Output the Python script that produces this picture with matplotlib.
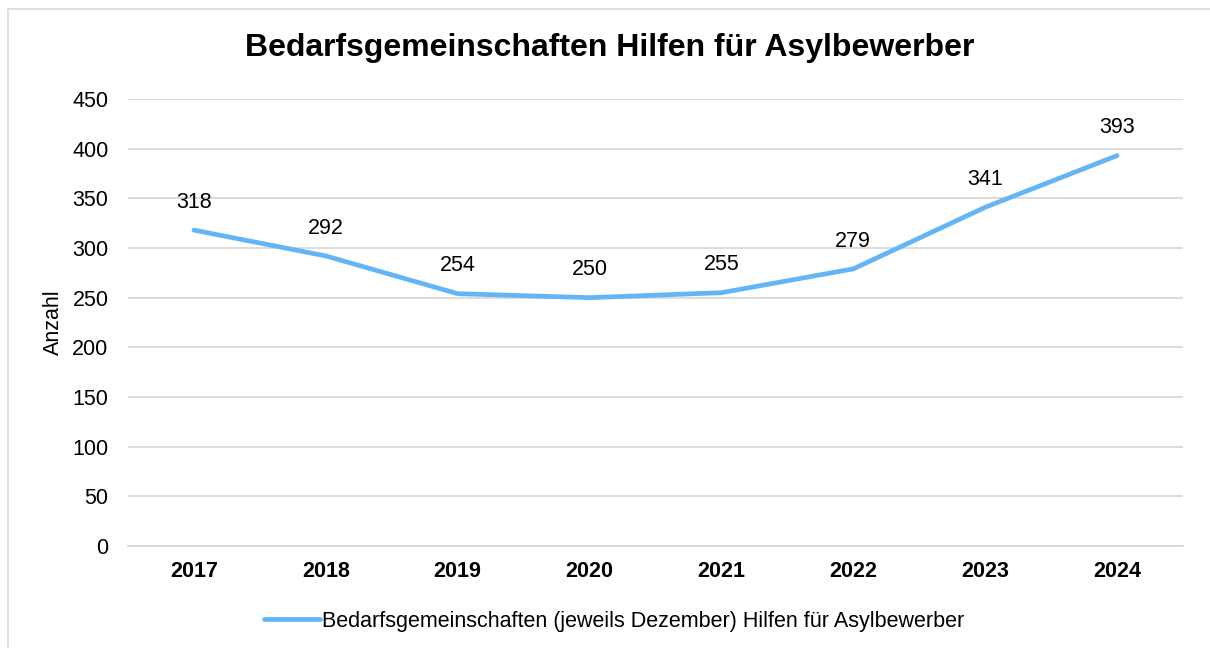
import matplotlib
matplotlib.use("Agg")
import matplotlib.pyplot as plt
from matplotlib.lines import Line2D

plt.rcParams["font.family"] = ["Liberation Sans", "DejaVu Sans"]

# Daten
jahre = ["2017", "2018", "2019", "2020", "2021", "2022", "2023", "2024"]
werte = [318, 292, 254, 250, 255, 279, 341, 393]

LINE_COLOR = "#64B5F6"
GRID_COLOR = "#D9D9D9"
FS = 15.5

W, H = 1210, 648
fig = plt.figure(figsize=(W / 100, H / 100), dpi=100)
ax = fig.add_axes([128 / W, 1 - 546 / H, (1183 - 128) / W, (546 - 99) / H])

x = list(range(len(jahre)))
ax.plot(x, werte, color=LINE_COLOR, linewidth=3.4, solid_capstyle="round",
        solid_joinstyle="round", zorder=3,
        label="Bedarfsgemeinschaften (jeweils Dezember) Hilfen für Asylbewerber")

for xi, v in zip(x, werte):
    ax.annotate(str(v), xy=(xi, v), xytext=(0, 20), textcoords="offset points",
                ha="center", va="center", fontsize=FS)

ax.set_xlim(-0.5, len(jahre) - 0.5)
ax.set_ylim(0, 450)
ax.set_yticks(range(0, 451, 50))
ax.set_xticks(x)
ax.set_xticklabels(jahre, fontweight="bold", fontsize=FS)
ax.tick_params(axis="y", labelsize=FS, length=0, pad=14)
ax.tick_params(axis="x", length=0, pad=11)
ax.grid(True, axis="y", color=GRID_COLOR, linewidth=1.3)
ax.set_axisbelow(True)
for s in ["top", "right", "left"]:
    ax.spines[s].set_visible(False)
ax.spines["bottom"].set_color(GRID_COLOR)
ax.spines["bottom"].set_linewidth(1.3)

ax.set_ylabel("Anzahl", fontsize=FS, labelpad=6)

fig.text(610 / W, 1 - 48 / H, "Bedarfsgemeinschaften Hilfen für Asylbewerber",
         ha="center", va="center", fontsize=23, fontweight="bold")

leg = fig.legend(loc="center", bbox_to_anchor=(614 / W, 1 - 621 / H), frameon=False,
                 fontsize=FS, handlelength=2.6, handletextpad=0.1)

# Rahmen oben und links
fig.add_artist(Line2D([8 / W, 8 / W], [0, 1 - 9 / H], transform=fig.transFigure,
                      color="#D9D9D9", linewidth=1.2))
fig.add_artist(Line2D([8 / W, 1], [1 - 9 / H, 1 - 9 / H], transform=fig.transFigure,
                      color="#D9D9D9", linewidth=1.2))

fig.savefig("out.png", dpi=100, facecolor="white")
